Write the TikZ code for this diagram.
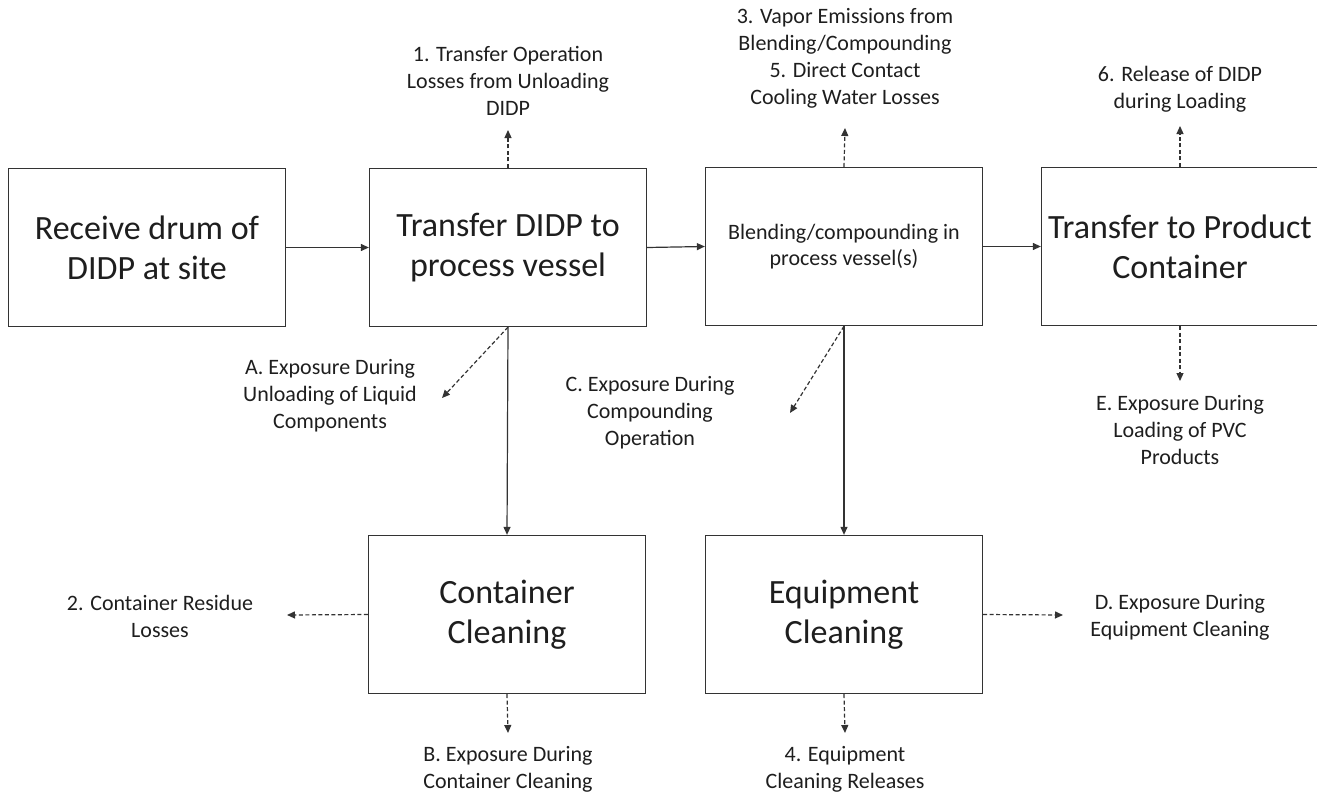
\documentclass[tikz,border=0pt]{standalone}
\usepackage{fontspec}
\setmainfont{Carlito}
\usetikzlibrary{arrows.meta}
\definecolor{linec}{HTML}{333333}
\definecolor{txt}{HTML}{1E1E1E}
\tikzset{
  box/.style={draw=linec, line width=1.3pt, minimum width=277pt, minimum height=158pt,
    align=center, inner sep=0pt, text=txt, font=\fontsize{34}{40}\selectfont},
  smallbox/.style={box, font=\fontsize{22}{25.5}\selectfont},
  lbl/.style={align=center, font=\fontsize{22}{27}\selectfont, text=txt, inner sep=0pt},
  flow/.style={draw=linec, line width=1.2pt, -{Triangle[length=8pt,width=7pt]}},
  rel/.style={flow, dash pattern=on 4pt off 2.5pt},
}
\begin{document}
\begin{tikzpicture}[x=1pt,y=-1pt]
\useasboundingbox (0,0) rectangle (1317,795);
\clip (0,0) rectangle (1317,795);

% process steps
\node[box] (recv) at (147,247.5) {Receive drum of\\DIDP at site};
\node[box] (xfer) at (508,247.5) {Transfer DIDP to\\process vessel};
\node[smallbox] (blend) at (844,246.5) {Blending/compounding in\\process vessel(s)};
\node[box] (prod) at (1180,246.5) {Transfer to Product\\Container};
\node[box] (ccl) at (507,614.5) {Container\\Cleaning};
\node[box] (ecl) at (844,614.5) {Equipment\\Cleaning};

% main flow
\draw[flow] (recv.east) -- (xfer.west);
\draw[flow] (xfer.east) -- (blend.west);
\draw[flow] (blend.east) -- (prod.west);
\draw[flow] (xfer.south) -- (ccl.north);
\draw[flow] (blend.south) -- (ecl.north);

% release and exposure labels
\node[lbl] (r1) at (508,80.5) {1. Transfer Operation\\Losses from Unloading\\DIDP};
\node[lbl] (r35) at (845,58.5) {3. Vapor Emissions from\\Blending/Compounding\\5. Direct Contact\\Cooling Water Losses};
\node[lbl] (r6) at (1180,89) {6. Release of DIDP\\during Loading};
\node[lbl] (eE) at (1180,430) {E. Exposure During\\Loading of PVC\\Products};
\node[lbl] (eA) at (330,396) {A. Exposure During\\Unloading of Liquid\\Components};
\node[lbl] (eC) at (650,413) {C. Exposure During\\Compounding\\Operation};
\node[lbl] (r2) at (160,616) {2. Container Residue\\Losses};
\node[lbl] (eB) at (508,769) {B. Exposure During\\Container Cleaning};
\node[lbl] (eD) at (1180,617.5) {D. Exposure During\\Equipment Cleaning};
\node[lbl] (r4) at (845,769) {4. Equipment\\Cleaning Releases};

% arrow tips of the release/exposure arrows
\coordinate (t1) at (508,130);
\coordinate (t35) at (845,128);
\coordinate (t6) at (1180,126);
\coordinate (tE) at (1180,381);
\coordinate (tA) at (442,398);
\coordinate (tC) at (790,413);
\coordinate (t2) at (287,615);
\coordinate (tB) at (508,733);
\coordinate (tD) at (1063,615);
\coordinate (t4) at (845,733);

\draw[rel] (xfer.north) -- (t1);
\draw[rel] (blend.north) -- (t35);
\draw[rel] (prod.north) -- (t6);
\draw[rel] (prod.south) -- (tE);
\draw[rel] (xfer.south) -- (tA);
\draw[rel] (blend.south) -- (tC);
\draw[rel] (ccl.west) -- (t2);
\draw[rel] (ccl.south) -- (tB);
\draw[rel] (ecl.east) -- (tD);
\draw[rel] (ecl.south) -- (t4);
\end{tikzpicture}
\end{document}
